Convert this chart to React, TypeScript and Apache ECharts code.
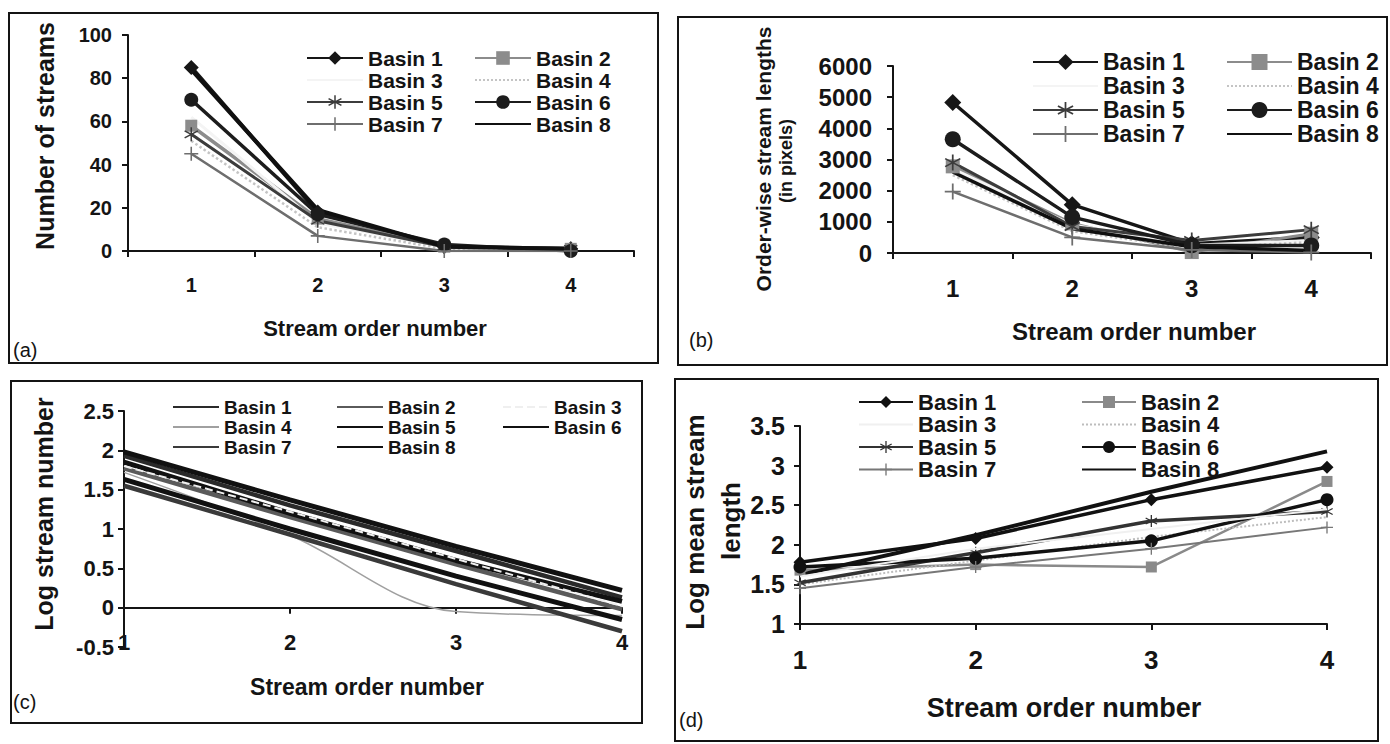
import React, { useEffect, useRef } from 'react';
import * as echarts from 'echarts';

// ---------- data ----------
const ORDERS = ['1', '2', '3', '4'];
const BASINS = ['Basin 1', 'Basin 2', 'Basin 3', 'Basin 4', 'Basin 5', 'Basin 6', 'Basin 7', 'Basin 8'];

// (a) number of streams per order, one row per basin
const STREAM_COUNTS = [
  [85, 18, 2, 1],
  [58, 15, 2, 1],
  [62, 13, 2, 0],
  [51, 11, 1, 0],
  [54, 14, 2, 1],
  [70, 17, 3, 0],
  [45, 7, 0, 0],
  [84, 19, 2, 1],
];

// (b) order-wise stream lengths (in pixels)
const STREAM_LENGTHS = [
  [4830, 1550, 300, 500],
  [2780, 950, 30, 620],
  [2700, 900, 250, 400],
  [2500, 700, 150, 350],
  [2900, 850, 400, 750],
  [3650, 1150, 250, 240],
  [1970, 500, 100, 20],
  [2600, 780, 200, 80],
];

// (c) log stream number
const LOG_STREAM_NUMBERS = [
  [1.93, 1.3, 0.72, 0.13],
  [1.77, 1.15, 0.55, -0.02],
  [1.8, 1.22, 0.62, 0.02],
  [1.72, 0.92, -0.05, -0.1],
  [1.98, 1.37, 0.78, 0.22],
  [1.63, 1.0, 0.4, -0.15],
  [1.55, 0.93, 0.3, -0.3],
  [1.85, 1.2, 0.6, 0.08],
];

// (d) log mean stream length
const LOG_MEAN_LENGTHS = [
  [1.78, 2.08, 2.57, 2.98],
  [1.68, 1.75, 1.72, 2.8],
  [1.6, 1.95, 2.2, 2.45],
  [1.5, 1.8, 2.1, 2.35],
  [1.52, 1.9, 2.3, 2.42],
  [1.72, 1.83, 2.05, 2.57],
  [1.45, 1.72, 1.95, 2.22],
  [1.62, 2.12, 2.67, 3.18],
];

// ---------- styles ----------
const FONT = "'Liberation Sans', Arial, Helvetica, sans-serif";
const INK = '#141414';
const ASTERISK =
  'path://M9,0L11,0L11,20L9,20Z M0.84,5.87L1.84,4.13L19.16,14.13L18.16,15.87Z M1.84,15.87L0.84,14.13L18.16,4.13L19.16,5.87Z';
const PLUS = 'path://M9,1L11,1L11,19L9,19Z M1,9L19,9L19,11L1,11Z';

type Sty = { color: string; width: number; symbol: string; size: number; type?: string; smooth?: boolean; z?: number };

const STYLE_A: Sty[] = [
  { color: '#161616', width: 4, symbol: 'diamond', size: 15 },
  { color: '#8c8c8c', width: 3.5, symbol: 'rect', size: 12 },
  { color: '#f4f4f4', width: 3, symbol: 'none', size: 0 },
  { color: '#c4c4c4', width: 2.5, symbol: 'none', size: 0, type: 'dotted' },
  { color: '#3c3c3c', width: 3, symbol: ASTERISK, size: 14 },
  { color: '#1c1c1c', width: 3.5, symbol: 'circle', size: 14 },
  { color: '#6e6e6e', width: 2.5, symbol: PLUS, size: 14 },
  { color: '#101010', width: 4, symbol: 'none', size: 0 },
];
const STYLE_B: Sty[] = [
  { color: '#161616', width: 3.5, symbol: 'diamond', size: 17 },
  { color: '#8c8c8c', width: 3, symbol: 'rect', size: 14 },
  { color: '#f4f4f4', width: 3, symbol: 'none', size: 0 },
  { color: '#c4c4c4', width: 2.5, symbol: 'none', size: 0, type: 'dotted' },
  { color: '#3c3c3c', width: 3, symbol: ASTERISK, size: 16 },
  { color: '#1c1c1c', width: 3.5, symbol: 'circle', size: 16 },
  { color: '#6e6e6e', width: 2.5, symbol: PLUS, size: 16 },
  { color: '#101010', width: 3.5, symbol: 'none', size: 0 },
];
const STYLE_C: Sty[] = [
  { color: '#2a2a2a', width: 4.5, symbol: 'none', size: 0 },
  { color: '#5a5a5a', width: 4.5, symbol: 'none', size: 0 },
  { color: '#efefef', width: 2, symbol: 'none', size: 0, type: 'dashed', z: 5 },
  { color: '#a0a0a0', width: 1.5, symbol: 'none', size: 0, smooth: true },
  { color: '#111111', width: 5, symbol: 'none', size: 0 },
  { color: '#111111', width: 5, symbol: 'none', size: 0 },
  { color: '#3a3a3a', width: 4.5, symbol: 'none', size: 0 },
  { color: '#111111', width: 5, symbol: 'none', size: 0 },
];
const STYLE_D: Sty[] = [
  { color: '#111111', width: 3.5, symbol: 'diamond', size: 13 },
  { color: '#8a8a8a', width: 2.5, symbol: 'rect', size: 11 },
  { color: '#f0f0f0', width: 2, symbol: 'none', size: 0, z: 5 },
  { color: '#bdbdbd', width: 2, symbol: 'none', size: 0, type: 'dotted' },
  { color: '#333333', width: 3.5, symbol: ASTERISK, size: 12 },
  { color: '#111111', width: 3.5, symbol: 'circle', size: 13 },
  { color: '#777777', width: 2, symbol: PLUS, size: 12 },
  { color: '#111111', width: 4, symbol: 'none', size: 0 },
];

function makeSeries(panel: string, xIdx: number, yIdx: number, values: number[][], styles: Sty[]) {
  return values.map((v, i) => {
    const s = styles[i];
    return {
      type: 'line',
      name: `${panel}|${BASINS[i]}`,
      xAxisIndex: xIdx,
      yAxisIndex: yIdx,
      data: v,
      symbol: s.symbol,
      symbolSize: s.size,
      showSymbol: s.symbol !== 'none',
      smooth: s.smooth ? 0.35 : false,
      z: s.z ?? 2,
      silent: true,
      lineStyle: { color: s.color, width: s.width, type: s.type ?? 'solid' },
      itemStyle: { color: s.color, opacity: s.symbol === 'none' ? 0 : 1 },
      emphasis: { disabled: true },
    };
  });
}

// one vertical legend per legend column
function makeLegendColumns(panel: string, styles: Sty[], columns: number[][], lefts: number[], o: any) {
  return columns.map((col, c) => ({
    show: true,
    selectedMode: false,
    orient: 'vertical',
    left: lefts[c],
    top: o.top,
    padding: 0,
    itemGap: o.gap,
    itemWidth: o.itemWidth,
    itemHeight: o.itemHeight,
    formatter: (n: string) => n.split('|')[1],
    textStyle: {
      fontFamily: FONT,
      fontWeight: 'bold',
      fontSize: o.fontSize,
      color: INK,
    },
    data: col.map((i) => ({
      name: `${panel}|${BASINS[i]}`,
      itemStyle: styles[i].symbol === 'none' ? { opacity: 0 } : undefined,
    })),
  }));
}

const axisLineStyle = { color: INK, width: 2 };
const tickStyle = { show: true, length: 6, lineStyle: { color: INK, width: 2 } };
const label = (size: number, margin: number, extra: any = {}) => ({
  fontFamily: FONT,
  fontWeight: 'bold',
  fontSize: size,
  color: INK,
  margin,
  ...extra,
});

const boxes = [
  [9, 13, 649, 350],
  [678, 17, 709, 348],
  [11, 381, 631, 342],
  [675, 379, 703, 362],
];

const txt = (text: string, x: number, y: number, size: number, opts: any = {}) => ({
  type: 'text',
  x,
  y,
  rotation: opts.rot ? Math.PI / 2 : 0,
  silent: true,
  style: {
    text,
    font: `${opts.regular ? 'normal' : 'bold'} ${size}px ${FONT}`,
    fill: INK,
    align: opts.align ?? 'center',
    verticalAlign: 'middle',
    textAlign: opts.align ?? 'center',
    textVerticalAlign: 'middle',
  },
});

const TWO_COLS = [[0, 2, 4, 6], [1, 3, 5, 7]];
const THREE_COLS = [[0, 3, 6], [1, 4, 7], [2, 5]];

const option: any = {
  animation: false,
  backgroundColor: '#ffffff',
  grid: [
    { left: 128, top: 35, width: 506, height: 216 },
    { left: 893, top: 66, width: 478, height: 187 },
    { left: 124, top: 411, width: 498, height: 236 },
    { left: 800, top: 426, width: 527, height: 198 },
  ],
  xAxis: [
    {
      type: 'category', gridIndex: 0, data: ORDERS, boundaryGap: true,
      axisLine: { show: true, lineStyle: axisLineStyle }, axisTick: tickStyle,
      axisLabel: label(20, 24), splitLine: { show: false },
    },
    {
      type: 'category', gridIndex: 1, data: ORDERS, boundaryGap: true,
      axisLine: { show: true, lineStyle: axisLineStyle }, axisTick: tickStyle,
      axisLabel: label(24, 23), splitLine: { show: false },
    },
    {
      type: 'category', gridIndex: 2, data: ORDERS, boundaryGap: false, position: 'bottom',
      axisLine: { show: false, onZero: false }, axisTick: { show: false },
      axisLabel: label(22, -5, { verticalAlign: 'middle' }), splitLine: { show: false },
    },
    {
      type: 'category', gridIndex: 2, data: ORDERS, boundaryGap: false, position: 'bottom',
      axisLine: { show: true, onZero: true, lineStyle: axisLineStyle }, axisTick: tickStyle,
      axisLabel: { show: false }, splitLine: { show: false },
    },
    {
      type: 'category', gridIndex: 3, data: ORDERS, boundaryGap: false,
      axisLine: { show: true, lineStyle: axisLineStyle }, axisTick: tickStyle,
      axisLabel: label(26, 23), splitLine: { show: false },
    },
  ],
  yAxis: [
    {
      type: 'value', gridIndex: 0, min: 0, max: 100, interval: 20,
      axisLine: { show: true, lineStyle: axisLineStyle }, axisTick: tickStyle,
      axisLabel: label(20, 16), splitLine: { show: false },
    },
    {
      type: 'value', gridIndex: 1, min: 0, max: 6000, interval: 1000,
      axisLine: { show: true, lineStyle: axisLineStyle }, axisTick: tickStyle,
      axisLabel: label(24, 21, { formatter: (v: number) => String(v) }), splitLine: { show: false },
    },
    {
      type: 'value', gridIndex: 2, min: -0.5, max: 2.5, interval: 0.5,
      axisLine: { show: true, lineStyle: axisLineStyle }, axisTick: tickStyle,
      axisLabel: label(22, 10), splitLine: { show: false },
    },
    {
      type: 'value', gridIndex: 3, min: 1, max: 3.5, interval: 0.5,
      axisLine: { show: true, lineStyle: axisLineStyle }, axisTick: tickStyle,
      axisLabel: label(25, 15), splitLine: { show: false },
    },
  ],
  legend: [
    ...makeLegendColumns('a', STYLE_A, TWO_COLS, [306, 474], { top: 47.5, gap: 1, itemWidth: 56, itemHeight: 17, fontSize: 21 }),
    ...makeLegendColumns('b', STYLE_B, TWO_COLS, [1032, 1226], { top: 50.5, gap: 1, itemWidth: 65, itemHeight: 20, fontSize: 23 }),
    ...makeLegendColumns('c', STYLE_C, THREE_COLS, [172, 336, 502], { top: 397.5, gap: 1, itemWidth: 46, itemHeight: 10, fontSize: 19 }),
    ...makeLegendColumns('d', STYLE_D, TWO_COLS, [858, 1081], { top: 391, gap: 0.5, itemWidth: 54, itemHeight: 15, fontSize: 22 }),
  ],
  series: [
    ...makeSeries('a', 0, 0, STREAM_COUNTS, STYLE_A),
    ...makeSeries('b', 1, 1, STREAM_LENGTHS, STYLE_B),
    ...makeSeries('c', 2, 2, LOG_STREAM_NUMBERS, STYLE_C),
    ...makeSeries('d', 4, 3, LOG_MEAN_LENGTHS, STYLE_D),
  ],
  graphic: [
    ...boxes.map(([x, y, w, h]) => ({
      type: 'rect',
      silent: true,
      shape: { x, y, width: w, height: h },
      style: { fill: 'none', stroke: INK, lineWidth: 2 },
    })),
    txt('Number of streams', 45, 136, 25, { rot: true }),
    txt('Stream order number', 375, 328, 22),
    txt('(a)', 13, 350, 20, { regular: true, align: 'left' }),
    txt('Order-wise stream lengths', 763, 159, 21, { rot: true }),
    txt('(in pixels)', 786, 161, 18, { rot: true }),
    txt('Stream order number', 1134, 331, 24),
    txt('(b)', 689, 340, 20, { regular: true, align: 'left' }),
    txt('Log stream number', 44, 514, 25, { rot: true }),
    txt('Stream order number', 367, 687, 23),
    txt('(c)', 13, 702, 20, { regular: true, align: 'left' }),
    txt('Log mean stream', 695, 522, 26, { rot: true }),
    txt('length', 731, 521, 26, { rot: true }),
    txt('Stream order number', 1064, 708, 27),
    txt('(d)', 679, 720, 20, { regular: true, align: 'left' }),
  ],
};

export default function App() {
  const ref = useRef<HTMLDivElement>(null);
  useEffect(() => {
    if (!ref.current) return;
    const chart = echarts.init(ref.current, null, { renderer: 'svg' });
    chart.setOption(option);
    return () => chart.dispose();
  }, []);
  return (
    <div
      ref={ref}
      style={{ position: 'fixed', left: 0, top: 0, width: 1390, height: 744, background: '#fff' }}
    />
  );
}
